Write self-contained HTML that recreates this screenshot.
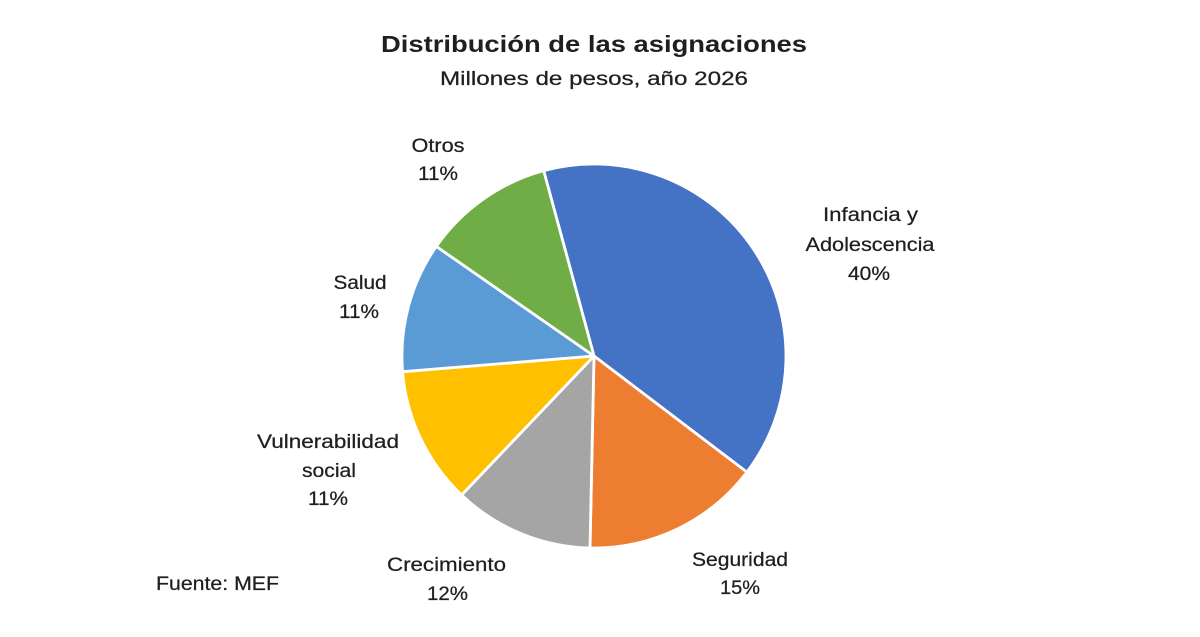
<!DOCTYPE html>
<html>
<head>
<meta charset="utf-8">
<style>
  html, body { margin:0; padding:0; background:#ffffff; }
  body { width:1200px; height:637px; overflow:hidden; }
  svg { display:block; }
  text { font-family: "Liberation Sans", "DejaVu Sans", sans-serif; fill:#1f1f1f; }
  .lbl text { stroke:#1f1f1f; stroke-width:0.25; }
</style>
</head>
<body>
<svg width="1200" height="637" viewBox="0 0 1200 637" xmlns="http://www.w3.org/2000/svg">
  <rect x="0" y="0" width="1200" height="637" fill="#ffffff"/>

  <!-- Title -->
  <text x="381" y="52" font-size="23.5" font-weight="bold" fill="#111" textLength="426" lengthAdjust="spacingAndGlyphs">Distribución de las asignaciones</text>
  <g class="lbl">
  <text x="440" y="85" font-size="19.5" textLength="308" lengthAdjust="spacingAndGlyphs">Millones de pesos, año 2026</text>
  </g>

  <!-- Pie -->
  <g stroke="#ffffff" stroke-width="2.8" stroke-linejoin="round">
    <path d="M594,356 L543.7,170.7 A192,192 0 0 1 746.9,472.1 Z" fill="#4472C4"/>
    <path d="M594,356 L746.9,472.1 A192,192 0 0 1 590.0,548.0 Z" fill="#ED7D31"/>
    <path d="M594,356 L590.0,548.0 A192,192 0 0 1 461.6,495.0 Z" fill="#A5A5A5"/>
    <path d="M594,356 L461.6,495.0 A192,192 0 0 1 402.6,371.7 Z" fill="#FFC000"/>
    <path d="M594,356 L402.6,371.7 A192,192 0 0 1 436.3,246.4 Z" fill="#5B9BD5"/>
    <path d="M594,356 L436.3,246.4 A192,192 0 0 1 543.7,170.7 Z" fill="#70AD47"/>
  </g>

  <!-- Labels -->
  <g class="lbl" font-size="19.5" text-anchor="middle">
    <text x="438" y="152" textLength="53" lengthAdjust="spacingAndGlyphs">Otros</text>
    <text x="438" y="180" textLength="40" lengthAdjust="spacingAndGlyphs">11%</text>

    <text x="360" y="289" textLength="53" lengthAdjust="spacingAndGlyphs">Salud</text>
    <text x="359" y="318" textLength="40" lengthAdjust="spacingAndGlyphs">11%</text>

    <text x="870.5" y="221" textLength="95" lengthAdjust="spacingAndGlyphs">Infancia y</text>
    <text x="870" y="251" textLength="129" lengthAdjust="spacingAndGlyphs">Adolescencia</text>
    <text x="869" y="280" textLength="42" lengthAdjust="spacingAndGlyphs">40%</text>

    <text x="328" y="448" textLength="142" lengthAdjust="spacingAndGlyphs">Vulnerabilidad</text>
    <text x="329" y="477" textLength="54" lengthAdjust="spacingAndGlyphs">social</text>
    <text x="328" y="505" textLength="40" lengthAdjust="spacingAndGlyphs">11%</text>

    <text x="446.5" y="571" textLength="119" lengthAdjust="spacingAndGlyphs">Crecimiento</text>
    <text x="447.5" y="600" textLength="41" lengthAdjust="spacingAndGlyphs">12%</text>

    <text x="740" y="566" textLength="96" lengthAdjust="spacingAndGlyphs">Seguridad</text>
    <text x="740" y="594" textLength="40" lengthAdjust="spacingAndGlyphs">15%</text>
  </g>

  <g class="lbl">
  <text x="156" y="590" font-size="19.5" textLength="123" lengthAdjust="spacingAndGlyphs">Fuente: MEF</text>
  </g>
</svg>
</body>
</html>
